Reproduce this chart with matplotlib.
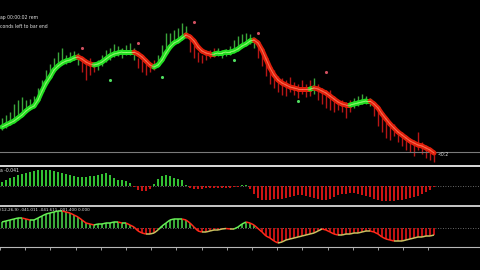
import numpy as np
import matplotlib
matplotlib.use("Agg")
import matplotlib.pyplot as plt
from matplotlib.collections import LineCollection
from matplotlib.lines import Line2D

# ---------------- data ----------------
ma = [35, 37, 39, 41, 44, 47, 51, 54, 56, 62,
      71, 79, 85, 92, 96, 99, 101, 102, 104, 105,
      103, 100, 98, 97, 98, 100, 103, 106, 108, 109,
      110, 110, 110, 110, 108, 105, 101, 97, 95, 97,
      102, 109, 115, 119, 121, 124, 127, 125, 121, 115,
      111, 109, 108, 108, 109, 109, 110, 110, 111, 113,
      116, 118, 121, 122, 119, 112, 103, 94, 87, 82,
      79, 77, 75, 74, 73, 73, 73, 73, 74, 73,
      71, 69, 66, 63, 60, 58, 57, 57, 58, 59,
      60, 61, 61, 58, 54, 48, 43, 38, 34, 30,
      27, 24, 21, 19, 17, 16, 14, 12, 9]

bar_high = [44, 47, 50, 58, 62, 65, 62, 63, 66, 74,
            82, 92, 98, 104, 110, 114, 107, 110, 111, 109,
            104, 100, 104, 100, 102, 107, 112, 114, 118, 116,
            114, 117, 119, 114, 104, 102, 99, 100, 102, 107,
            117, 129, 129, 132, 134, 139, 136, 124, 117, 110,
            107, 110, 112, 114, 114, 112, 113, 116, 122, 126,
            128, 129, 128, 124, 117, 110, 102, 96, 92, 86,
            84, 82, 85, 80, 78, 82, 78, 82, 84, 78,
            74, 72, 72, 66, 62, 62, 60, 62, 64, 66,
            68, 66, 64, 58, 52, 46, 40, 36, 38, 32,
            30, 26, 22, 18, 30, 20, 16, 14, 12]

bar_low = [32, 34, 37, 42, 45, 50, 52, 54, 56, 62,
           70, 77, 84, 90, 96, 99, 98, 100, 102, 97,
           90, 82, 87, 90, 92, 96, 100, 102, 105, 106,
           104, 107, 107, 102, 94, 90, 87, 90, 92, 96,
           104, 114, 117, 120, 122, 125, 124, 110, 104, 100,
           99, 102, 104, 105, 106, 104, 106, 107, 110, 114,
           115, 117, 118, 114, 104, 96, 86, 78, 74, 70,
           67, 66, 70, 67, 64, 68, 65, 66, 68, 62,
           58, 54, 52, 50, 52, 50, 44, 50, 54, 56,
           58, 58, 56, 46, 36, 30, 24, 22, 26, 20,
           16, 12, 10, 6, 12, 8, 4, 2, 0]

last_price = 10

peak_bars = [20, 34, 48, 64, 81]
peak_vals = [114, 119, 140, 129, 90]
trough_bars = [27, 40, 58, 74]
trough_vals = [82, 85, 102, 61]

osma = [4, 6, 8, 9, 11, 12, 13, 14, 15, 16,
        16, 16, 16, 15, 14, 13, 12, 11, 10, 9,
        9, 9, 10, 10, 11, 12, 13, 11, 8, 6,
        6, 5, 3, -1, -4, -5, -5, -3, 2, 7,
        10, 11, 10, 8, 7, 6, 1, -2, -3, -3,
        -3, -2, -2, -2, -2, -2, -2, -2, -1, -1,
        1, 1, -3, -8, -12, -14, -14, -14, -13, -13,
        -13, -12, -11, -10, -9, -9, -10, -11, -12, -13,
        -14, -14, -13, -11, -9, -8, -8, -7, -7, -8,
        -9, -10, -11, -13, -14, -15, -15, -15, -15, -14,
        -14, -13, -12, -11, -10, -8, -6, -4, -1]

macd = [6, 7, 8, 9, 10, 10, 9, 8, 8, 10,
        12, 14, 15, 16, 17, 17, 16, 15, 13, 11,
        8, 5, 4, 3, 4, 4, 5, 5, 6, 6,
        5, 5, 3, 1, -3, -5, -6, -6, -5, -2,
        2, 5, 8, 9, 9, 9, 8, 5, 1, -3,
        -4, -4, -3, -2, -2, -1, -0.5, -1, -1, 1,
        4, 6, 5, 3, -0.5, -4, -8, -10, -13, -15,
        -14, -12, -11, -10, -9, -8, -7, -6, -5, -3,
        -1, -2, -4, -6, -7, -7, -6, -6, -5, -5,
        -4, -3, -3, -4, -6, -9, -11, -12, -13, -13,
        -13, -12, -11, -10, -9, -9, -8, -8, -7]

label_top1 = "ap 00:00:02 rem"
label_top2 = "conds left to bar end"
label_osma = "a -0.041"
label_macd = "(12,26,9) -041.011 -041.611 -001.400 0.000"
label_price = "<0:2"

# ---------------- figure ----------------
W, H = 480, 270
fig = plt.figure(figsize=(4.8, 2.7), dpi=100, facecolor="black")

def frac(top_px, bottom_px):
    return [0, (H - bottom_px) / H, 1, (bottom_px - top_px) / H]

n = len(ma)
x = np.arange(n)
XLIM = (-0.5, 119.5)

GREEN = "#22dd22"
GREEN_C = "#a8ff80"
RED = "#e0200c"
RED_C = "#ff8060"

def slope_colors(vals, up, down):
    cols = []
    prev = up
    for a, b in zip(vals[:-1], vals[1:]):
        if b > a:
            prev = up
        elif b < a:
            prev = down
        cols.append(prev)
    return cols

# ---- main panel ----
ax1 = fig.add_axes(frac(0, 163))
ax1.set_facecolor("black")
ax1.set_xlim(*XLIM)
ax1.set_ylim(-1, 162)
ax1.axis("off")

seg_cols = slope_colors(ma, "up", "down")
bar_trend = [seg_cols[0]] + seg_cols
bar_cols = ["#3aa63a" if t == "up" else "#b81616" for t in bar_trend]
ax1.vlines(x, bar_low, bar_high, colors=bar_cols, linewidth=1.0)

ax1.axhline(last_price, color="#7a7a7a", linewidth=0.8)

pts = np.column_stack([x, ma])
segs = np.stack([pts[:-1], pts[1:]], axis=1)
band = [GREEN if c == "up" else RED for c in seg_cols]
center = [GREEN_C if c == "up" else RED_C for c in seg_cols]
ax1.add_collection(LineCollection(segs, colors=band, linewidths=3.6,
                                  capstyle="round"))
ax1.add_collection(LineCollection(segs, colors=center, linewidths=0.7,
                                  capstyle="round", alpha=0.8))

ax1.scatter(peak_bars, peak_vals, s=5, color="#d05060", zorder=5,
            linewidths=0)
ax1.scatter(trough_bars, trough_vals, s=5, color="#50dd60", zorder=5,
            linewidths=0)

# ---- OsMA panel ----
ax2 = fig.add_axes(frac(167, 204))
ax2.set_facecolor("black")
ax2.set_xlim(*XLIM)
ax2.set_ylim(-18, 19)
ax2.axis("off")
ax2.bar(x, osma, width=0.72,
        color=["#33c033" if v >= 0 else "#cc1414" for v in osma],
        linewidth=0)
ax2.axhline(0, color="#8a8a8a", linewidth=0.6, linestyle=(0, (1, 2)),
            zorder=0)

# ---- MACD panel ----
ax3 = fig.add_axes(frac(207, 247))
ax3.set_facecolor("black")
ax3.set_xlim(*XLIM)
ax3.set_ylim(-19, 21)
for s in ("top", "left", "right"):
    ax3.spines[s].set_visible(False)
ax3.spines["bottom"].set_color("#b8b8b8")
ax3.spines["bottom"].set_linewidth(0.8)
ax3.set_yticks([])
ax3.set_xticks(np.arange(0, 109, 6.3) - 0.5)
ax3.tick_params(axis="x", direction="out", length=2, width=0.6,
                color="#b8b8b8", labelbottom=False)
ax3.bar(x, macd, width=0.6,
        color=["#3aa83a" if v >= 0 else "#c01212" for v in macd],
        linewidth=0)
ax3.axhline(0, color="#8a8a8a", linewidth=0.6, linestyle=(0, (1, 2)),
            zorder=0)
mpts = np.column_stack([x, macd])
msegs = np.stack([mpts[:-1], mpts[1:]], axis=1)
mcols = []
for (a, b) in zip(macd[:-1], macd[1:]):
    if b >= a:
        mcols.append("#66ee55" if b >= 0 else "#c8c060")
    else:
        mcols.append("#ff2a1a")
ax3.add_collection(LineCollection(msegs, colors=mcols, linewidths=1.1))

# ---- separators ----
fig.add_artist(Line2D([0, 1], [(H - 165.5) / H] * 2, color="white",
                      linewidth=1.2, transform=fig.transFigure))
fig.add_artist(Line2D([0, 1], [(H - 205.5) / H] * 2, color="#c8c8c8",
                      linewidth=1.4, transform=fig.transFigure))

# ---- texts ----
def ftext(xp, yp, s, size=3.3):
    fig.text(xp / W, 1 - yp / H, s, color="#e0e0e0", fontsize=size,
             va="center", ha="left",
             family=["Liberation Sans Narrow", "DejaVu Sans"])

ftext(0, 18, label_top1)
ftext(0, 27, label_top2)
ftext(0, 170, label_osma)
ftext(0, 210, label_macd, 3.0)
ftext(438, 155, label_price)

fig.savefig("out.png", dpi=100, facecolor="black")
